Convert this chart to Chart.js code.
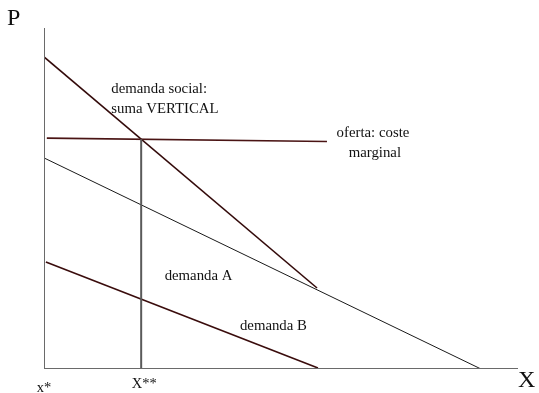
<!DOCTYPE html>
<html>
<head>
<meta charset="utf-8">
<script src="https://cdn.jsdelivr.net/npm/chart.js@4.4.1/dist/chart.umd.min.js"></script>
<style>
  html, body { margin: 0; padding: 0; background: #ffffff; }
  #wrap { width: 539px; height: 393px; position: relative; }
</style>
</head>
<body>
<div id="wrap"><canvas id="c" width="539" height="393"></canvas></div>
<script>
// Quantity (X) and price (P) in arbitrary units, 0..100 on both axes.
const socialDemandX = [0, 57.6];
const socialDemandP = [91.5, 23.75];
const demandAX = [0, 92.2];
const demandAP = [61.9, 0];
const demandBX = [0.4, 57.8];
const demandBP = [31.4, 0.3];
const supplyX = [0.6, 59.7];
const supplyP = [67.7, 66.7];
const optimumX = [20.5, 20.5];
const optimumP = [0, 67.4];
const axisXX = [0, 100];
const axisXP = [0, 0];
const axisYX = [0, 0];
const axisYP = [0, 100];

const tickLabels = ['x*', 'X**'];
const tickValues = [0, 20.5];

const toPts = (xs, ys) => xs.map((x, i) => ({ x: x, y: ys[i] }));

function lineSet(label, xs, ys, color, width) {
  return {
    label: label,
    data: toPts(xs, ys),
    showLine: true,
    borderColor: color,
    borderWidth: width,
    pointRadius: 0,
    pointHoverRadius: 0,
    fill: false,
    tension: 0
  };
}

const SERIF = '"Liberation Serif", "DejaVu Serif", serif';

// Free text placed in data coordinates
const notes = [
  { text: 'demanda social:', x: 14.2, y: 82.0, align: 'left', size: 14.8 },
  { text: 'suma VERTICAL', x: 14.2, y: 76.3, align: 'left', size: 14.8 },
  { text: 'oferta: coste', x: 69.4, y: 69.3, align: 'center', size: 14.8 },
  { text: 'marginal', x: 69.8, y: 63.3, align: 'center', size: 14.8 },
  { text: 'demanda A', x: 32.6, y: 27.3, align: 'center', size: 14.8 },
  { text: 'demanda B', x: 48.4, y: 12.6, align: 'center', size: 14.8 }
];

const textPlugin = {
  id: 'textPlugin',
  afterDatasetsDraw(chart) {
    const { ctx, scales: { x, y } } = chart;
    ctx.save();
    ctx.fillStyle = '#111111';
    ctx.textBaseline = 'middle';
    notes.forEach(n => {
      ctx.font = n.size + 'px ' + SERIF;
      ctx.textAlign = n.align;
      ctx.fillText(n.text, x.getPixelForValue(n.x), y.getPixelForValue(n.y));
    });
    // tick labels under the quantity axis
    ctx.font = '14.5px ' + SERIF;
    ctx.textAlign = 'center';
    ctx.textBaseline = 'alphabetic';
    tickLabels.forEach((t, i) => {
      const px = x.getPixelForValue(tickValues[i]);
      ctx.fillText(t, px + (i === 0 ? 0 : 3), y.getPixelForValue(0) + (i === 0 ? 23 : 19));
    });
    // axis names
    ctx.font = '24px ' + SERIF;
    ctx.textAlign = 'left';
    ctx.fillText('P', 7, 25);
    ctx.fillText('X', 518, 387);
    ctx.restore();
  }
};

new Chart(document.getElementById('c'), {
  type: 'scatter',
  data: {
    datasets: [
      lineSet('eje X', axisXX, axisXP, '#6a6a6a', 2),
      lineSet('eje P', axisYX, axisYP, '#6a6a6a', 2),
      lineSet('X**', optimumX, optimumP, '#5a5a5a', 2),
      lineSet('demanda A', demandAX, demandAP, '#1a1a1a', 1),
      lineSet('demanda B', demandBX, demandBP, '#3a0c0c', 1.6),
      lineSet('oferta: coste marginal', supplyX, supplyP, '#4a1414', 1.6),
      lineSet('demanda social', socialDemandX, socialDemandP, '#330a0a', 1.6)
    ]
  },
  options: {
    responsive: false,
    animation: false,
    events: [],
    layout: { padding: { left: 44, right: 21, top: 28, bottom: 24 } },
    plugins: { legend: { display: false }, tooltip: { enabled: false } },
    scales: {
      x: { type: 'linear', min: 0, max: 100, display: false },
      y: { type: 'linear', min: 0, max: 100, display: false }
    }
  },
  plugins: [textPlugin]
});
</script>
</body>
</html>
